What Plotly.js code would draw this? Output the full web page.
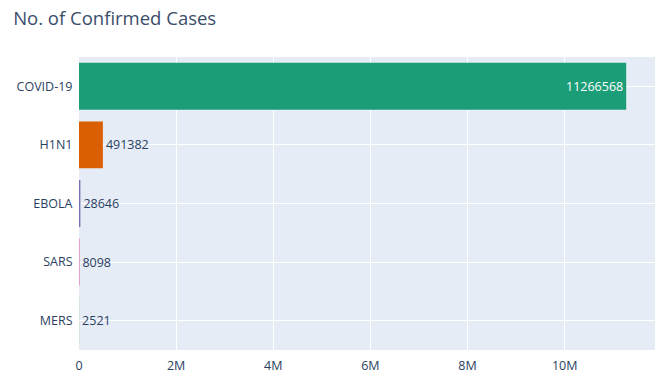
<!DOCTYPE html>
<html>
<head>
<meta charset="utf-8">
<script src="https://cdn.plot.ly/plotly-3.0.1.min.js"></script>
<style>html,body{margin:0;padding:0;background:#fff;}#chart{width:657px;height:375px;}</style>
</head>
<body>
<div id="chart"></div>
<script>
const diseases = ["COVID-19", "H1N1", "EBOLA", "SARS", "MERS"];
const confirmedCases = [11266568, 491382, 28646, 8098, 2521];
const barColors = ["#1b9e77", "#d95f02", "#7570b3", "#e7298a", "#66a61e"];

const trace = {
  type: "bar",
  orientation: "h",
  y: diseases,
  x: confirmedCases,
  text: confirmedCases.map(String),
  textposition: "auto",
  textfont: {size: 12.5},
  marker: {color: barColors},
  hoverinfo: "x+y"
};

const layout = {
  width: 657,
  height: 375,
  margin: {l: 79, r: 2, t: 57, b: 25},
  paper_bgcolor: "#ffffff",
  plot_bgcolor: "#E5ECF6",
  font: {family: "Open Sans, sans-serif", size: 12.5, color: "#2a3f5f"},
  title: {text: "No. of Confirmed Cases", x: 0.02, xanchor: "left", y: 0.951, yanchor: "middle", font: {size: 18.5, color: "#3b4d6b"}},
  showlegend: false,
  xaxis: {gridcolor: "#ffffff", zeroline: false, tickformat: "~s", ticks: "", showline: false, automargin: false, ticklabelstandoff: 6},
  yaxis: {gridcolor: "#ffffff", autorange: "reversed", ticks: "outside", ticklen: 3, tickcolor: "rgba(0,0,0,0)", automargin: false},
  bargap: 0.2
};

Plotly.newPlot("chart", [trace], layout, {displayModeBar: false, staticPlot: true});
</script>
</body>
</html>
